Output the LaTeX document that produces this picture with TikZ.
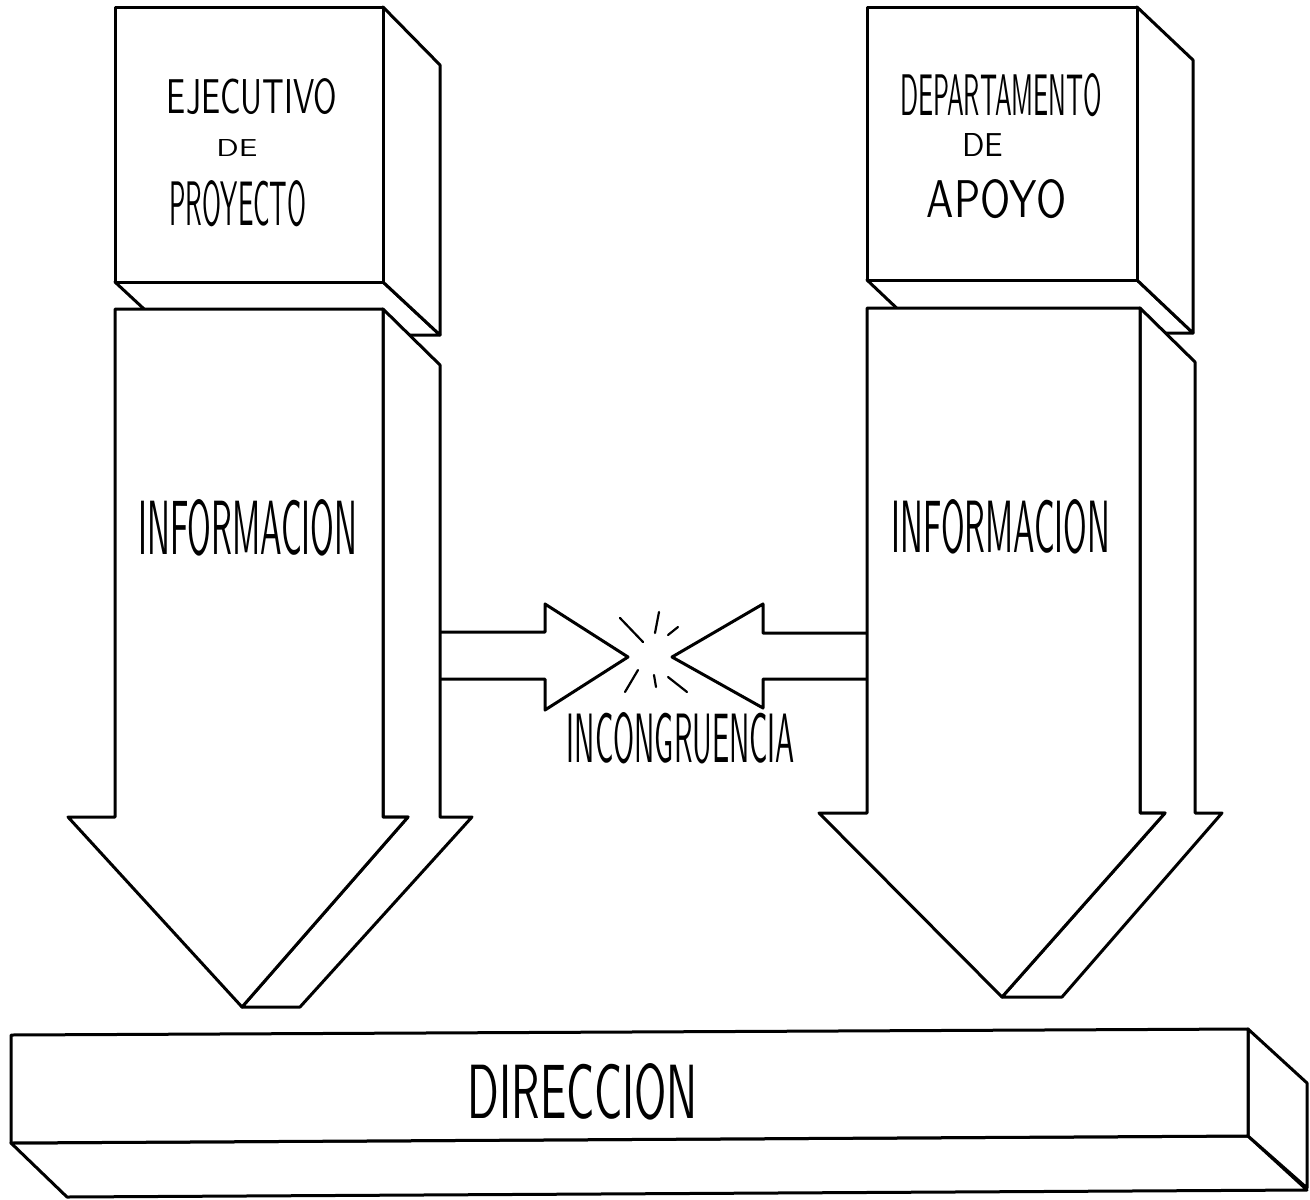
\documentclass[tikz,border=0pt]{standalone}
\usepackage{graphicx}
\newcommand\handfnt{\sffamily}
\newcommand\handtxt[3]{\resizebox{#1pt}{#2pt}{\handfnt #3}}
\begin{document}
\begin{tikzpicture}[x=1pt,y=-1pt,
  face/.style={draw=black,line width=3pt,fill=white,line join=round,line cap=round},
  edge/.style={draw=black,line width=3pt,line join=round,line cap=round},
  spark/.style={draw=black,line width=2.2pt,line cap=round},
  lab/.style={inner sep=0pt,outer sep=0pt,anchor=center}]
\useasboundingbox[fill=white] (0,0) rectangle (1310,1200);

% ---- left block: box + arrow
\path[face] (115,282) -- (383,282) -- (440,335) -- (172,335) -- cycle;
\path[face] (383,7) -- (440,65) -- (440,335) -- (383,282) -- cycle;
\path[face] (115,7) rectangle (383,282);
\path[face] (383,309) -- (440,365) -- (440,817) -- (472,817) -- (300,1007) -- (242,1007) -- (408,817) -- (383,817) -- cycle;
\path[face] (115,309) -- (383,309) -- (383,817) -- (408,817) -- (242,1007) -- (68,817) -- (115,817) -- cycle;

% ---- right block: box + arrow
\path[face] (867,280) -- (1137,280) -- (1193,333) -- (923,333) -- cycle;
\path[face] (1137,7) -- (1193,60) -- (1193,333) -- (1137,280) -- cycle;
\path[face] (867,7) rectangle (1137,280);
\path[face] (1140,308) -- (1195,362) -- (1195,813) -- (1222,813) -- (1062,997) -- (1002,997) -- (1165,813) -- (1140,813) -- cycle;
\path[face] (867,308) -- (1140,308) -- (1140,813) -- (1165,813) -- (1002,997) -- (819,813) -- (867,813) -- cycle;

% ---- horizontal arrows meeting
\path[edge] (441,632) -- (545,632) -- (545,604) -- (628,657) -- (545,710) -- (545,679) -- (441,679);
\path[edge] (866,633) -- (763,633) -- (763,604) -- (672,657) -- (763,708) -- (763,679) -- (866,679);

% ---- spark strokes
\path[spark] (620,618) -- (643,642);
\path[spark] (659,612) -- (655,633);
\path[spark] (678,627) -- (668,635);
\path[spark] (638,670) -- (625,692);
\path[spark] (654,675) -- (656,687);
\path[spark] (668,677) -- (687,692);

% ---- bottom bar
\path[face] (11,1143) -- (1248,1136) -- (1307,1190) -- (67,1197) -- cycle;
\path[face] (1248,1029) -- (1307,1083) -- (1307,1188) -- (1248,1136) -- cycle;
\path[face] (11,1035) -- (1248,1029) -- (1248,1136) -- (11,1143) -- cycle;

% ---- texts
\node[lab] (ej) at (252,97) {\handtxt{170}{35}{EJECUTIVO}};
\node[lab] (de1) at (237,148) {\handtxt{41}{17}{DE}};
\node[lab] (pr) at (238,204) {\handtxt{137}{45}{PROYECTO}};
\node[lab] (dp) at (1001,95) {\handtxt{202}{42}{DEPARTAMENTO}};
\node[lab] (de2) at (983,145) {\handtxt{41}{23}{DE}};
\node[lab] (ap) at (997,199) {\handtxt{140}{38}{APOYO}};
\node[lab] (inf1) at (248,528) {\handtxt{219}{55}{INFORMACION}};
\node[lab] (inf2) at (1001,527) {\handtxt{218}{53}{INFORMACION}};
\node[lab] (inc) at (681,738) {\handtxt{228}{50}{INCONGRUENCIA}};
\node[lab] (dir) at (583,1092) {\handtxt{230}{55}{DIRECCION}};
\end{tikzpicture}
\end{document}
